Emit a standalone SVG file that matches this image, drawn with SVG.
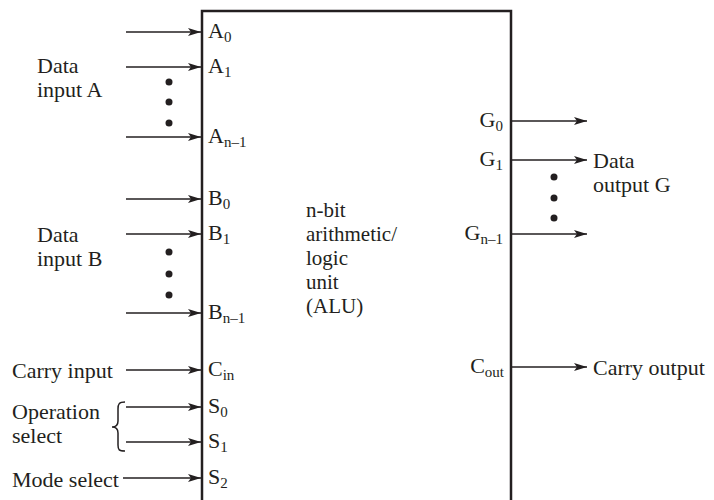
<svg xmlns="http://www.w3.org/2000/svg" width="714" height="500" viewBox="0 0 714 500">
<style>
text{font-family:"Liberation Serif","Times New Roman",serif;font-size:22px;fill:#231f20}
.s{font-size:15px}
.c{font-size:21px}
.w{stroke:#231f20;stroke-width:1.5;fill:none}
.d{fill:#231f20}
</style>
<defs>
<marker id="ah" markerUnits="userSpaceOnUse" markerWidth="14" markerHeight="10" refX="13" refY="4" orient="auto">
<path d="M0,0 L13,4 L0,8 L3,4 z" fill="#231f20"/>
</marker>
</defs>
<rect width="714" height="500" fill="#fff"/>
<g id="alu">
<path d="M202,502 V11 H511 V502" fill="none" stroke="#231f20" stroke-width="2.5"/>
<text class="c" x="306" y="217">n-bit</text>
<text class="c" x="306" y="241">arithmetic/</text>
<text class="c" x="306" y="265">logic</text>
<text class="c" x="306" y="289">unit</text>
<text class="c" x="306" y="313">(ALU)</text>
<text x="208" y="38">A<tspan class="s" dy="4">0</tspan></text>
<text x="208" y="73">A<tspan class="s" dy="4">1</tspan></text>
<text x="208" y="143">A<tspan class="s" dy="4">n–1</tspan></text>
<text x="208" y="205">B<tspan class="s" dy="4">0</tspan></text>
<text x="208" y="240">B<tspan class="s" dy="4">1</tspan></text>
<text x="208" y="319">B<tspan class="s" dy="4">n–1</tspan></text>
<text x="208" y="376">C<tspan class="s" dy="4">in</tspan></text>
<text x="208" y="413">S<tspan class="s" dy="4">0</tspan></text>
<text x="208" y="448">S<tspan class="s" dy="4">1</tspan></text>
<text x="208" y="484">S<tspan class="s" dy="4">2</tspan></text>
<text x="503" y="127" text-anchor="end">G<tspan class="s" dy="4">0</tspan></text>
<text x="503" y="166" text-anchor="end">G<tspan class="s" dy="4">1</tspan></text>
<text x="503" y="240" text-anchor="end">G<tspan class="s" dy="4">n–1</tspan></text>
<text x="504" y="373" text-anchor="end">C<tspan class="s" dy="4">out</tspan></text>
</g>
<g id="labels">
<text x="37" y="73">Data</text>
<text x="37" y="97">input A</text>
<text x="37" y="242">Data</text>
<text x="37" y="266">input B</text>
<text x="12" y="378">Carry input</text>
<text x="12" y="419">Operation</text>
<text x="12" y="443">select</text>
<text x="12" y="487">Mode select</text>
<text x="593" y="168">Data</text>
<text x="593" y="192">output G</text>
<text x="593" y="375">Carry output</text>
</g>
<g id="connectors">
<line class="w" x1="126" y1="32" x2="201" y2="32" marker-end="url(#ah)"/>
<line class="w" x1="126" y1="67" x2="201" y2="67" marker-end="url(#ah)"/>
<line class="w" x1="126" y1="137" x2="201" y2="137" marker-end="url(#ah)"/>
<line class="w" x1="126" y1="199" x2="201" y2="199" marker-end="url(#ah)"/>
<line class="w" x1="126" y1="234" x2="201" y2="234" marker-end="url(#ah)"/>
<line class="w" x1="126" y1="313" x2="201" y2="313" marker-end="url(#ah)"/>
<line class="w" x1="126" y1="370" x2="201" y2="370" marker-end="url(#ah)"/>
<line class="w" x1="126" y1="407" x2="201" y2="407" marker-end="url(#ah)"/>
<line class="w" x1="126" y1="442" x2="201" y2="442" marker-end="url(#ah)"/>
<line class="w" x1="123" y1="478" x2="201" y2="478" marker-end="url(#ah)"/>
<line class="w" x1="512" y1="121" x2="587" y2="121" marker-end="url(#ah)"/>
<line class="w" x1="512" y1="160" x2="587" y2="160" marker-end="url(#ah)"/>
<line class="w" x1="512" y1="234" x2="587" y2="234" marker-end="url(#ah)"/>
<line class="w" x1="512" y1="367" x2="587" y2="367" marker-end="url(#ah)"/>
<path class="w" d="M125,402 C119,402 118,404 118,409 V421 C118,425 116,427 112,427 C116,427 118,429 118,433 V445 C118,450 119,451 125,451"/>
</g>
<g id="dots" class="d">
<circle cx="169" cy="82" r="3.5"/>
<circle cx="169" cy="102" r="3.5"/>
<circle cx="169" cy="123" r="3.5"/>
<circle cx="169" cy="252" r="3.5"/>
<circle cx="169" cy="274" r="3.5"/>
<circle cx="169" cy="295" r="3.5"/>
<circle cx="554" cy="177" r="3.5"/>
<circle cx="554" cy="198" r="3.5"/>
<circle cx="554" cy="218" r="3.5"/>
</g>
</svg>
